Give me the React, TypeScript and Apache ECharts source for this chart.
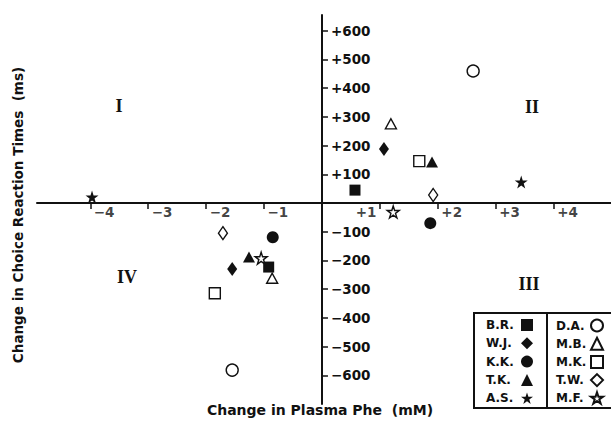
import React, { useEffect, useRef } from "react";
import * as echarts from "echarts";

// ---- data ----
const subjectsFilled = ["B.R.", "W.J.", "K.K.", "T.K.", "A.S."];
const subjectsOpen = ["D.A.", "M.B.", "M.K.", "T.W.", "M.F."];

const dataBR = [[0.57, 45], [-0.92, -223]];
const dataWJ = [[1.07, 188], [-1.55, -230]];
const dataKK = [[1.87, -70], [-0.85, -119]];
const dataTK = [[1.9, 143], [-1.26, -188]];
const dataAS = [[-3.97, 21], [3.44, 73]];
const dataDA = [[2.61, 460], [-1.55, -582]];
const dataMB = [[1.19, 276], [-0.86, -262]];
const dataMK = [[1.68, 146], [-1.85, -314]];
const dataTW = [[1.92, 28], [-1.71, -105]];
const dataMF = [[1.23, -31], [-1.05, -192]];

const xTickValues = [-4, -3, -2, -1, 1, 2, 3, 4];
const xTickLabels = ["\u22124", "\u22123", "\u22122", "\u22121", "+1", "+2", "+3", "+4"];
const yTickValues = [-600, -500, -400, -300, -200, -100, 100, 200, 300, 400, 500, 600];

const quadrantLabels = ["I", "II", "III", "IV"];

const xTitle = "Change in Plasma Phe  (mM)";
const yTitle = "Change in Choice Reaction Times  (ms)";

const STAR =
  "path://M10 0 L12.245 6.91 L19.511 6.91 L13.633 11.18 L15.878 18.09 L10 13.82 L4.122 18.09 L6.367 11.18 L0.489 6.91 L7.755 6.91 Z";

const INK = "#111";
const FONT = "DejaVu Sans";

// layout
const W = 611;
const H = 428;
const G_LEFT = 37;
const G_TOP = 15;
const G_BOTTOM = 24;
const X_MIN = -4.92;
const X_MAX = 4.99;
const Y_MIN = -700;
const Y_MAX = 655;

export default function App() {
  const ref = useRef<HTMLDivElement>(null);

  useEffect(() => {
    if (!ref.current) return;
    const chart = echarts.init(ref.current, null, { renderer: "svg" });

    const gw = W - G_LEFT;
    const gh = H - G_TOP - G_BOTTOM;
    // place axes through the origin
    const yAxisOffset = -((0 - X_MIN) / (X_MAX - X_MIN)) * gw;
    const xAxisOffset = -((0 - Y_MIN) / (Y_MAX - Y_MIN)) * gh;

    const filled = { color: INK, opacity: 1 };
    const open = { color: "#fff", borderColor: INK, borderWidth: 1.4, opacity: 1 };

    const mk = (name: string, data: number[][], symbol: string, size: any, style: any) => ({
      type: "scatter",
      name,
      data,
      symbol,
      symbolSize: size,
      itemStyle: style,
      z: 3,
    });

    const legendBase = {
      orient: "vertical",
      itemWidth: 12,
      itemHeight: 12,
      align: "right",
      padding: 0,
      selectedMode: false,
      formatter: (n: string) => `{n|${n}}`,
    };

    chart.setOption({
      animation: false,
      backgroundColor: "#fff",
      grid: { left: G_LEFT, right: 0, top: G_TOP, bottom: G_BOTTOM },
      xAxis: {
        type: "value",
        min: X_MIN,
        max: X_MAX,
        position: "bottom",
        offset: xAxisOffset,
        axisLine: { onZero: false, lineStyle: { color: INK, width: 2 } },
        axisTick: {
          show: true,
          length: 6,
          customValues: xTickValues,
          lineStyle: { color: INK, width: 1.5 },
        },
        axisLabel: { show: false },
        splitLine: { show: false },
      },
      yAxis: {
        type: "value",
        min: Y_MIN,
        max: Y_MAX,
        position: "left",
        offset: yAxisOffset,
        axisLine: { onZero: false, lineStyle: { color: INK, width: 2 } },
        axisTick: {
          show: true,
          inside: true,
          length: 6,
          customValues: yTickValues,
          lineStyle: { color: INK, width: 1.5 },
        },
        axisLabel: {
          show: true,
          inside: true,
          margin: 9,
          customValues: yTickValues,
          formatter: (v: number) => (v > 0 ? "+" + v : "\u2212" + Math.abs(v)),
          color: INK,
          fontFamily: FONT,
          fontWeight: "bold",
          fontSize: 13.5,
        },
        splitLine: { show: false },
      },
      legend: [
        {
          ...legendBase,
          left: 486,
          top: 319,
          itemGap: 6.3,
          data: subjectsFilled,
          textStyle: {
            rich: {
              n: { width: 30, align: "left", lineHeight: 12, fontFamily: FONT, fontWeight: "bold", fontSize: 12, color: INK },
            },
          },
        },
        {
          ...legendBase,
          left: 556,
          top: 318.5,
          itemGap: 4.2,
          data: subjectsOpen,
          textStyle: {
            rich: {
              n: { width: 30, align: "left", lineHeight: 12, fontFamily: FONT, fontWeight: "bold", fontSize: 12, color: INK },
            },
          },
        },
      ],
      series: [
        mk("B.R.", dataBR, "rect", 11, filled),
        mk("W.J.", dataWJ, "diamond", [10, 14], filled),
        mk("K.K.", dataKK, "circle", 12, filled),
        mk("T.K.", dataTK, "triangle", [12, 11], filled),
        mk("A.S.", dataAS, STAR, 13, filled),
        mk("D.A.", dataDA, "circle", 12, open),
        mk("M.B.", dataMB, "triangle", [11, 10], open),
        mk("M.K.", dataMK, "rect", 11, open),
        mk("T.W.", dataTW, "diamond", [9, 13], open),
        mk("M.F.", dataMF, STAR, 12, open),
        {
          type: "scatter",
          name: "xticklabels",
          silent: true,
          symbolSize: 1,
          itemStyle: { color: "rgba(0,0,0,0)" },
          data: xTickValues.map((v, i) => ({
            value: [v, 0],
            label: {
              show: true,
              position: v === 1 ? "left" : "right",
              distance: 3,
              offset: [0, 9],
              formatter: xTickLabels[i],
              color: INK,
              fontFamily: FONT,
              fontWeight: "bold",
              fontSize: 13.5,
            },
          })),
        },
      ],
      graphic: [
        {
          type: "text",
          x: 119,
          y: 106,
          style: { text: quadrantLabels[0], font: "bold 18px 'Liberation Serif'", fill: INK, align: "center", verticalAlign: "middle" },
        },
        {
          type: "text",
          x: 532,
          y: 107,
          style: { text: quadrantLabels[1], font: "bold 18px 'Liberation Serif'", fill: INK, align: "center", verticalAlign: "middle" },
        },
        {
          type: "text",
          x: 529,
          y: 284,
          style: { text: quadrantLabels[2], font: "bold 18px 'Liberation Serif'", fill: INK, align: "center", verticalAlign: "middle" },
        },
        {
          type: "text",
          x: 127,
          y: 277,
          style: { text: quadrantLabels[3], font: "bold 18px 'Liberation Serif'", fill: INK, align: "center", verticalAlign: "middle" },
        },
        {
          type: "text",
          x: 320,
          y: 410,
          style: { text: xTitle, font: `bold 14px '${FONT}'`, fill: INK, align: "center", verticalAlign: "middle" },
        },
        {
          type: "text",
          x: 18,
          y: 215,
          rotation: Math.PI / 2,
          style: { text: yTitle, font: `bold 13.5px '${FONT}'`, fill: INK, align: "center", verticalAlign: "middle" },
        },
        {
          type: "rect",
          shape: { x: 474, y: 313, width: 160, height: 95 },
          style: { fill: "none", stroke: INK, lineWidth: 2 },
        },
        {
          type: "line",
          shape: { x1: 547, y1: 313, x2: 547, y2: 408 },
          style: { stroke: INK, lineWidth: 2 },
        },
      ],
    });

    return () => chart.dispose();
  }, []);

  return (
    <div
      ref={ref}
      style={{ position: "fixed", left: 0, top: 0, width: W, height: H, background: "#fff" }}
    />
  );
}
